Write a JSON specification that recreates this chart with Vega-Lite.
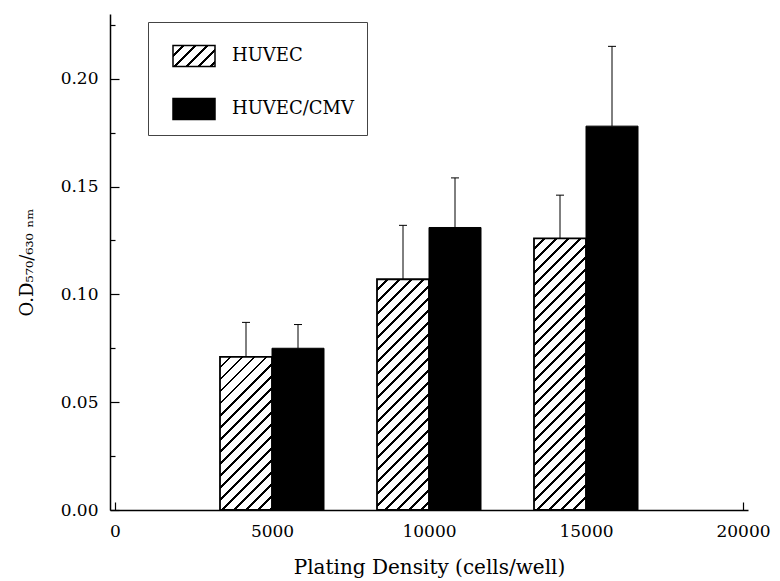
{
  "$schema": "https://vega.github.io/schema/vega-lite/v6.json",
  "width": 638,
  "height": 496,
  "autosize": {"type": "none"},
  "padding": {"left": 110, "top": 14, "right": 32, "bottom": 71},
  "background": "white",
  "params": [
    {"name": "hs", "value": [
      {"offset":0,"color":"#fff"},{"offset":0.0253,"color":"#fff"},{"offset":0.0253,"color":"#000"},{"offset":0.0333,"color":"#000"},
      {"offset":0.0333,"color":"#fff"},{"offset":0.0587,"color":"#fff"},{"offset":0.0587,"color":"#000"},{"offset":0.0667,"color":"#000"},
      {"offset":0.0667,"color":"#fff"},{"offset":0.092,"color":"#fff"},{"offset":0.092,"color":"#000"},{"offset":0.1,"color":"#000"},
      {"offset":0.1,"color":"#fff"},{"offset":0.1253,"color":"#fff"},{"offset":0.1253,"color":"#000"},{"offset":0.1333,"color":"#000"},
      {"offset":0.1333,"color":"#fff"},{"offset":0.1587,"color":"#fff"},{"offset":0.1587,"color":"#000"},{"offset":0.1667,"color":"#000"},
      {"offset":0.1667,"color":"#fff"},{"offset":0.192,"color":"#fff"},{"offset":0.192,"color":"#000"},{"offset":0.2,"color":"#000"},
      {"offset":0.2,"color":"#fff"},{"offset":0.2253,"color":"#fff"},{"offset":0.2253,"color":"#000"},{"offset":0.2333,"color":"#000"},
      {"offset":0.2333,"color":"#fff"},{"offset":0.2587,"color":"#fff"},{"offset":0.2587,"color":"#000"},{"offset":0.2667,"color":"#000"},
      {"offset":0.2667,"color":"#fff"},{"offset":0.292,"color":"#fff"},{"offset":0.292,"color":"#000"},{"offset":0.3,"color":"#000"},
      {"offset":0.3,"color":"#fff"},{"offset":0.3253,"color":"#fff"},{"offset":0.3253,"color":"#000"},{"offset":0.3333,"color":"#000"},
      {"offset":0.3333,"color":"#fff"},{"offset":0.3587,"color":"#fff"},{"offset":0.3587,"color":"#000"},{"offset":0.3667,"color":"#000"},
      {"offset":0.3667,"color":"#fff"},{"offset":0.392,"color":"#fff"},{"offset":0.392,"color":"#000"},{"offset":0.4,"color":"#000"},
      {"offset":0.4,"color":"#fff"},{"offset":0.4253,"color":"#fff"},{"offset":0.4253,"color":"#000"},{"offset":0.4333,"color":"#000"},
      {"offset":0.4333,"color":"#fff"},{"offset":0.4587,"color":"#fff"},{"offset":0.4587,"color":"#000"},{"offset":0.4667,"color":"#000"},
      {"offset":0.4667,"color":"#fff"},{"offset":0.492,"color":"#fff"},{"offset":0.492,"color":"#000"},{"offset":0.5,"color":"#000"},
      {"offset":0.5,"color":"#fff"},{"offset":0.5253,"color":"#fff"},{"offset":0.5253,"color":"#000"},{"offset":0.5333,"color":"#000"},
      {"offset":0.5333,"color":"#fff"},{"offset":0.5587,"color":"#fff"},{"offset":0.5587,"color":"#000"},{"offset":0.5667,"color":"#000"},
      {"offset":0.5667,"color":"#fff"},{"offset":0.592,"color":"#fff"},{"offset":0.592,"color":"#000"},{"offset":0.6,"color":"#000"},
      {"offset":0.6,"color":"#fff"},{"offset":0.6253,"color":"#fff"},{"offset":0.6253,"color":"#000"},{"offset":0.6333,"color":"#000"},
      {"offset":0.6333,"color":"#fff"},{"offset":0.6587,"color":"#fff"},{"offset":0.6587,"color":"#000"},{"offset":0.6667,"color":"#000"},
      {"offset":0.6667,"color":"#fff"},{"offset":0.692,"color":"#fff"},{"offset":0.692,"color":"#000"},{"offset":0.7,"color":"#000"},
      {"offset":0.7,"color":"#fff"},{"offset":0.7253,"color":"#fff"},{"offset":0.7253,"color":"#000"},{"offset":0.7333,"color":"#000"},
      {"offset":0.7333,"color":"#fff"},{"offset":0.7587,"color":"#fff"},{"offset":0.7587,"color":"#000"},{"offset":0.7667,"color":"#000"},
      {"offset":0.7667,"color":"#fff"},{"offset":0.792,"color":"#fff"},{"offset":0.792,"color":"#000"},{"offset":0.8,"color":"#000"},
      {"offset":0.8,"color":"#fff"},{"offset":0.8253,"color":"#fff"},{"offset":0.8253,"color":"#000"},{"offset":0.8333,"color":"#000"},
      {"offset":0.8333,"color":"#fff"},{"offset":0.8587,"color":"#fff"},{"offset":0.8587,"color":"#000"},{"offset":0.8667,"color":"#000"},
      {"offset":0.8667,"color":"#fff"},{"offset":0.892,"color":"#fff"},{"offset":0.892,"color":"#000"},{"offset":0.9,"color":"#000"},
      {"offset":0.9,"color":"#fff"},{"offset":0.9253,"color":"#fff"},{"offset":0.9253,"color":"#000"},{"offset":0.9333,"color":"#000"},
      {"offset":0.9333,"color":"#fff"},{"offset":0.9587,"color":"#fff"},{"offset":0.9587,"color":"#000"},{"offset":0.9667,"color":"#000"},
      {"offset":0.9667,"color":"#fff"},{"offset":0.992,"color":"#fff"},{"offset":0.992,"color":"#000"},{"offset":1,"color":"#000"}
    ]}
  ],
  "data": {"values": [
    {"density": 5000, "series": "HUVEC", "od": 0.071, "upper": 0.087},
    {"density": 5000, "series": "HUVEC/CMV", "od": 0.075, "upper": 0.086},
    {"density": 10000, "series": "HUVEC", "od": 0.107, "upper": 0.132},
    {"density": 10000, "series": "HUVEC/CMV", "od": 0.131, "upper": 0.154},
    {"density": 15000, "series": "HUVEC", "od": 0.126, "upper": 0.146},
    {"density": 15000, "series": "HUVEC/CMV", "od": 0.178, "upper": 0.215}
  ]},
  "config": {
    "view": {"stroke": null},
    "axis": {
      "grid": false,
      "domainColor": "black",
      "domainWidth": 1.5,
      "tickColor": "black",
      "tickWidth": 1.2,
      "labelColor": "black",
      "titleColor": "black",
      "labelFont": "DejaVu Serif",
      "titleFont": "DejaVu Serif",
      "labelFontSize": 17,
      "titleFontSize": 17,
      "titleFontWeight": "normal"
    }
  },
  "encoding": {
    "x": {
      "field": "density", "type": "quantitative",
      "scale": {"domain": [0, 20000], "nice": false, "zero": false},
      "axis": {
        "values": [0, 5000, 10000, 15000, 20000],
        "format": "d",
        "tickSize": -8,
        "labelPadding": 21,
        "labelFlush": false,
        "title": "Plating Density (cells/well)",
        "titleFontSize": 20,
        "titlePadding": 18
      }
    },
    "y": {
      "field": "od", "type": "quantitative",
      "scale": {"domain": [0, 0.23], "nice": false},
      "axis": {
        "values": [0, 0.025, 0.05, 0.075, 0.1, 0.125, 0.15, 0.175, 0.2, 0.225],
        "labelExpr": "round(datum.value*40) % 2 == 0 ? format(datum.value, '.2f') : ''",
        "tickSize": {"expr": "round(datum.value*40) % 2 == 0 ? -9 : -5"},
        "labelPadding": 21,
        "labelFlush": false,
        "title": "O.D₅₇₀/₆₃₀ ₙₘ",
        "titleFontSize": 18,
        "titlePadding": 24
      }
    }
  },
  "layer": [
    {
      "transform": [{"filter": "datum.series == 'HUVEC'"}],
      "mark": {
        "type": "bar", "size": 52, "xOffset": -26, "stroke": "black", "strokeWidth": 1.8,
        "fill": {"expr": "{gradient: 'linear', x1: 0, y1: 0, x2: 360.62*52/(2704+pow(scale('y',0)-scale('y',datum.od),2)), y2: 360.62*(scale('y',0)-scale('y',datum.od))/(2704+pow(scale('y',0)-scale('y',datum.od),2)), stops: hs}"}
      }
    },
    {
      "transform": [{"filter": "datum.series == 'HUVEC/CMV'"}],
      "mark": {"type": "bar", "size": 52, "xOffset": 26, "stroke": "black", "strokeWidth": 1},
      "encoding": {
        "fill": {
          "field": "series", "type": "nominal",
          "scale": {"domain": ["HUVEC", "HUVEC/CMV"], "range": [{"expr": "{gradient: 'linear', x1: 0, y1: 0, x2: 6.869, y2: 3.434, stops: hs}"}, "black"]},
          "legend": {
            "title": null,
            "orient": "none",
            "legendX": 38,
            "legendY": 8,
            "direction": "vertical",
            "symbolType": "M-1,-0.5H1V0.5H-1Z",
            "symbolSize": 1764,
            "symbolStrokeColor": "black",
            "symbolStrokeWidth": 1.5,
            "symbolOpacity": 1,
            "symbolOffset": 12,
            "labelFont": "DejaVu Serif",
            "labelFontSize": 18,
            "labelColor": "black",
            "labelOffset": 16,
            "rowPadding": 17,
            "padding": 12,
            "strokeColor": "#444",
            "fillColor": "white"
          }
        }
      }
    },
    {
      "transform": [{"filter": "datum.series == 'HUVEC'"}],
      "mark": {"type": "rule", "xOffset": -26, "color": "black", "strokeWidth": 1},
      "encoding": {"y": {"field": "od", "type": "quantitative"}, "y2": {"field": "upper"}}
    },
    {
      "transform": [{"filter": "datum.series == 'HUVEC/CMV'"}],
      "mark": {"type": "rule", "xOffset": 26, "color": "black", "strokeWidth": 1},
      "encoding": {"y": {"field": "od", "type": "quantitative"}, "y2": {"field": "upper"}}
    },
    {
      "transform": [{"filter": "datum.series == 'HUVEC'"}],
      "mark": {"type": "tick", "orient": "horizontal", "size": 8, "thickness": 1, "xOffset": -26, "color": "black", "opacity": 1},
      "encoding": {"y": {"field": "upper", "type": "quantitative"}}
    },
    {
      "transform": [{"filter": "datum.series == 'HUVEC/CMV'"}],
      "mark": {"type": "tick", "orient": "horizontal", "size": 8, "thickness": 1, "xOffset": 26, "color": "black", "opacity": 1},
      "encoding": {"y": {"field": "upper", "type": "quantitative"}}
    }
  ]
}
